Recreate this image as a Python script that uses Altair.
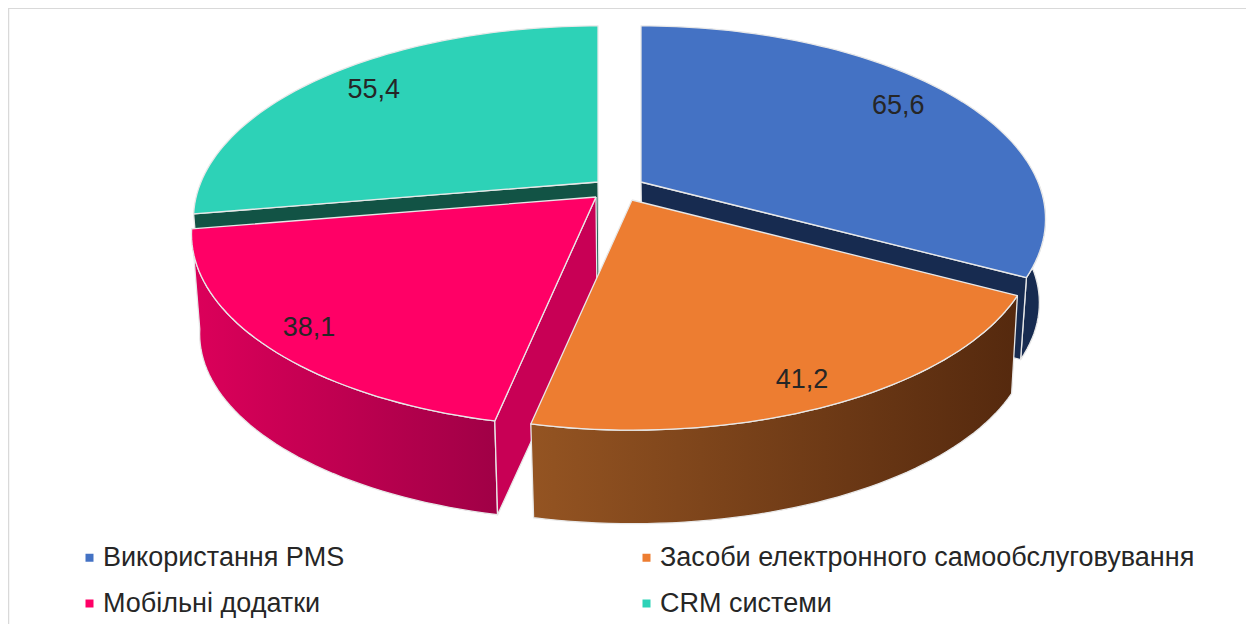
import math
import altair as alt
import pandas as pd

# --- chart values
categories = ["Використання PMS", "Засоби електронного самообслуговування", "Мобільні додатки", "CRM системи"]
values = [65.6, 41.2, 38.1, 55.4]
labels = ["65,6", "41,2", "38,1", "55,4"]
top_colors = ["#4472C4", "#ED7D31", "#FF0066", "#2DD2B7"]
radial_colors = ["#172B50", "#5A2E10", "#C80055", "#125345"]

# --- drawing set-up of the 3D pie (page pixels)
apex_x = [641, 632, 596, 598]
apex_y = [182, 200, 197, 182]
drops = [85, 101, 101, 97]
label_dx = [-5, -4, -5, 4]
label_dy = [-2, 6, 4, -2]
K, A_TOP, B_TOP, A_BOT, B_BOT = 0.1917, 186, 397, 180, 390
FONT = "Liberation Sans"
TEXT = "#262626"
EDGE = "#E8E8E8"
W, H = 1238, 616

total = sum(values)
starts, ends = [], []
c = 0.0
for v in values:
    starts.append(c)
    c += v / total * 360
    ends.append(c)


def project(i, deg, level="top", f=1.0):
    u, v = math.sin(math.radians(deg)) * f, -math.cos(math.radians(deg)) * f
    d = 1 - K * v
    if level == "top":
        return apex_x[i] + B_TOP * u / d, apex_y[i] + A_TOP * v / d
    return apex_x[i] + 1 + B_BOT * u / d, apex_y[i] + drops[i] + A_BOT * v / d


def arc(i, a, b, level):
    n = max(2, int(abs(b - a) / 1.5))
    return [project(i, a + (b - a) * j / n, level) for j in range(n + 1)]


def frame(points, name):
    points = list(points) + [points[0]]
    return pd.DataFrame({"x": [p[0] for p in points], "y": [p[1] for p in points],
                         "i": range(len(points)), "name": name})


X = alt.X("x:Q", axis=None, scale=alt.Scale(domain=[8, 8 + W], nice=False, zero=False))
Y = alt.Y("y:Q", axis=None, scale=alt.Scale(domain=[8 + H, 8], nice=False, zero=False))


def flat(points, color):
    return alt.Chart(frame(points, "p")).mark_line(
        fill=color, stroke=EDGE, strokeWidth=1.3, strokeJoin="round"
    ).encode(x=X, y=Y, order="i:Q")


def shaded(points, left, right):
    grad = alt.LinearGradient(gradient="linear", x1=0, x2=1, y1=0, y2=0,
                              stops=[alt.GradientStop(offset=0, color=left),
                                     alt.GradientStop(offset=1, color=right)])
    return alt.Chart(frame(points, "p")).mark_line(
        fill=grad, stroke=EDGE, strokeWidth=1.3, strokeJoin="round"
    ).encode(x=X, y=Y, order="i:Q")


def radial(i, deg):
    return [project(i, 0, "top", 0), project(i, deg, "top"),
            project(i, deg, "bot"), project(i, 0, "bot", 0)]


def wall(i, a, b, left, right):
    return shaded(arc(i, a, b, "top") + arc(i, b, a, "bot"), left, right)


def slice_points(i):
    return [project(i, 0, "top", 0)] + arc(i, starts[i], ends[i], "top")


# top faces drawn with a fill scale so the legend is the library's own
tops = pd.concat([frame(slice_points(i), categories[i]) for i in range(4)])
fill_scale = alt.Scale(domain=categories, range=top_colors)


def top(i):
    enc_legend = alt.Legend(
        orient="none", legendX=68, legendY=536, columns=2, title=None, direction="horizontal",
        symbolType="square", symbolSize=64, symbolStrokeWidth=0,
        labelFont=FONT, labelFontSize=27, labelColor=TEXT, labelLimit=700,
        labelOffset=0, rowPadding=18, columnPadding=288, gridAlign="each",
    )
    return alt.Chart(tops).transform_filter(
        alt.FieldEqualPredicate(field="name", equal=categories[i])
    ).mark_line(stroke=EDGE, strokeWidth=1.3, strokeJoin="round").encode(
        x=X, y=Y, order="i:Q",
        fill=alt.Fill("name:N", scale=fill_scale, legend=enc_legend, sort=categories),
    )


label_rows = []
for i in range(4):
    mid = (starts[i] + ends[i]) / 2
    v = -math.cos(math.radians(mid))
    lx, ly = project(i, mid, "top", 0.85 + 0.03 * v)
    label_rows.append({"x": lx + label_dx[i], "y": ly + label_dy[i], "t": labels[i]})
text = alt.Chart(pd.DataFrame(label_rows)).mark_text(
    font=FONT, fontSize=27, color=TEXT, align="center", baseline="middle"
).encode(x=X, y=Y, text="t:N")

left_line = alt.Chart(pd.DataFrame({"a": [0]})).mark_rule(color="#D9D9D9", strokeWidth=1.5).encode(
    x=alt.value(0.5), y=alt.value(0), y2=alt.value(H))
top_line = alt.Chart(pd.DataFrame({"a": [0]})).mark_rule(color="#D9D9D9", strokeWidth=1).encode(
    y=alt.value(0.5), x=alt.value(0), x2=alt.value(W))

layers = [
    left_line, top_line,
    # CRM
    flat(radial(3, starts[3]), radial_colors[3]),
    top(3),
    # PMS
    wall(0, 90, ends[0], radial_colors[0], radial_colors[0]),
    flat(radial(0, ends[0]), radial_colors[0]),
    top(0),
    # Mobile
    wall(2, starts[2], ends[2], "#DC005A", "#A00046"),
    flat(radial(2, starts[2]), radial_colors[2]),
    top(2),
    # Self-service
    wall(1, starts[1], ends[1], "#945422", "#55290E"),
    top(1),
    text,
]

chart = alt.layer(*layers).properties(
    width=W, height=H, padding=0, autosize=alt.AutoSizeParams(type="none")
).resolve_scale(x="shared", y="shared").configure_view(stroke=None)

chart.save("out.html", embed_options={"renderer": "svg", "actions": False})
